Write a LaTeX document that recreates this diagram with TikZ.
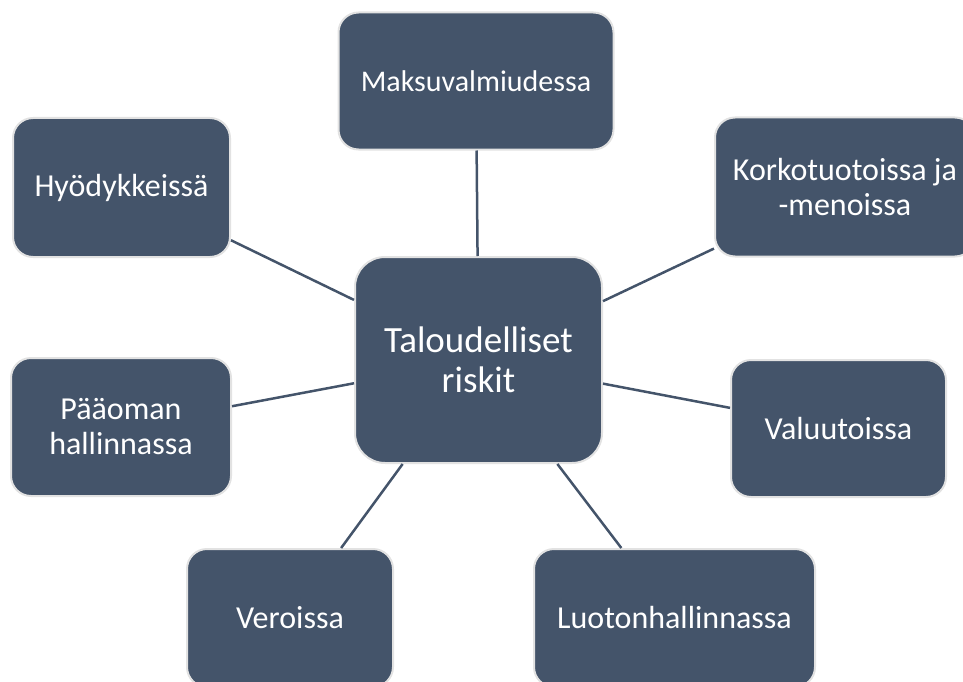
\documentclass[tikz,border=0pt]{standalone}
\usepackage{fontspec}
\setmainfont{Carlito}
\usepackage{xcolor}
\definecolor{slate}{HTML}{44546A}
\definecolor{rim}{HTML}{E2E2E2}

\begin{document}
\begin{tikzpicture}[x=1pt,y=-1pt,
    riskbox/.style={draw=rim, line width=2pt, fill=slate, text=white,
      rounded corners=20pt, align=center, inner sep=0pt,
      font=\fontsize{32}{35}\selectfont},
    hub/.style={riskbox, rounded corners=30pt,
      minimum width=247pt, minimum height=206pt,
      font=\fontsize{37}{40}\selectfont},
    link/.style={draw=slate, line width=2.5pt}]
  \clip (0,0) rectangle (963,682);
  \node[hub] (talous) at (478.5,360) {Taloudelliset\\riskit};
  \node[riskbox, minimum width=275pt, minimum height=137pt,
    font=\fontsize{30}{35}\selectfont] (maksu)
    at (476,81) {Maksuvalmiudessa};
  \node[riskbox, minimum width=260pt, minimum height=139pt] (korko)
    at (845,187) {Korkotuotoissa ja\\-menoissa};
  \node[riskbox, minimum width=217pt, minimum height=139pt] (hyody)
    at (121.5,187.5) {Hyödykkeissä};
  \node[riskbox, minimum width=220pt, minimum height=138pt] (paaoma)
    at (121,427) {Pääoman\\hallinnassa};
  \node[riskbox, minimum width=215pt, minimum height=137pt] (valuutta)
    at (838.5,428.5) {Valuutoissa};
  \node[riskbox, minimum width=206pt, minimum height=138pt] (vero)
    at (290,618) {Veroissa};
  \node[riskbox, minimum width=281pt, minimum height=138pt] (luotto)
    at (674.5,618) {Luotonhallinnassa};
  % yhteydet keskelta ulos
  \foreach \n in {maksu,korko,hyody,paaoma,valuutta,vero,luotto}
    \draw[link] (talous) -- (\n);
\end{tikzpicture}
\end{document}
